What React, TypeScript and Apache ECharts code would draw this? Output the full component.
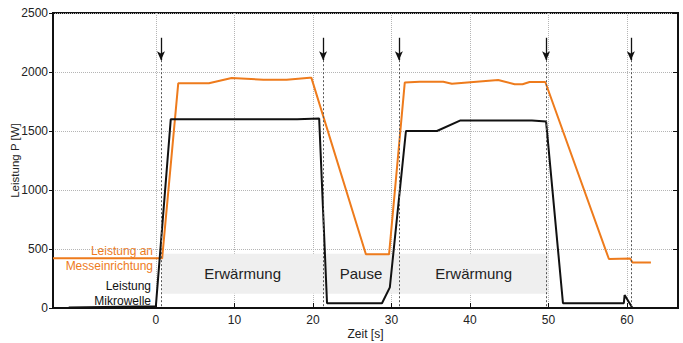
import React, { useEffect, useRef } from "react";
import * as echarts from "echarts";

const xTicks = [0, 10, 20, 30, 40, 50, 60];
const mwTime = [-11.1, 0, 1.9, 18, 20.8, 21.8, 28.8, 29.8, 31.85, 35.8, 38.8, 47.9, 49.7, 51.85, 59.6, 59.7, 60.7];
const mwPower = [5, 15, 1600, 1600, 1605, 40, 40, 175, 1500, 1500, 1590, 1590, 1580, 40, 40, 110, 0];
const meTime = [-13.1, 0.8, 2.85, 6.75, 9.65, 13.7, 16.65, 19.6, 19.8, 26.75, 29.7, 31.7, 33.6, 36.6, 37.7, 43.6, 45.7, 46.7, 47.6, 49.6, 57.7, 60.4, 60.7, 63.05];
const mePower = [421, 421, 1904, 1904, 1949, 1935, 1935, 1952, 1952, 455, 455, 1910, 1918, 1918, 1901, 1932, 1896, 1896, 1915, 1915, 415, 420, 385, 385];
const eventTimes = [0.65, 21.3, 30.95, 49.7, 60.5];
const phaseNames = ["Erwärmung", "Pause", "Erwärmung"];
const phaseBounds = [0.8, 21.3, 30.95, 50];
const bandLow = 120;
const bandHigh = 460;

const FONT = "Liberation Sans";

export default function App() {
  const ref = useRef<HTMLDivElement>(null);
  useEffect(() => {
    if (!ref.current) return;
    const chart = echarts.init(ref.current, null, { renderer: "svg" });
    const mw = mwTime.map((t, i) => [t, mwPower[i]]);
    const me = meTime.map((t, i) => [t, mePower[i]]);
    const areas = phaseNames.map((n, i) => [
      { name: n, coord: [phaseBounds[i], bandHigh] },
      { coord: [phaseBounds[i + 1], bandLow] },
    ]);
    const legendText = (text: string, x: number, y: number, fill: string) => ({
      type: "text", x, y,
      style: { text, fill, font: `12px '${FONT}'`, align: "right", verticalAlign: "middle" },
    });
    chart.setOption({
      animation: false,
      textStyle: { fontFamily: FONT },
      grid: {
        left: 53, right: 5, top: 13, bottom: 35,
        containLabel: false, outerBoundsMode: "none",
        show: true, borderColor: "#111", borderWidth: 2, backgroundColor: "transparent",
      },
      xAxis: {
        type: "value", min: -13.1, max: 66.5,
        name: "Zeit [s]", nameLocation: "middle", nameGap: 20, nameMoveOverlap: false,
        nameTextStyle: { fontSize: 12, color: "#222", fontFamily: FONT },
        axisLine: { show: true, onZero: false, lineStyle: { color: "#111", width: 2 } },
        axisTick: { show: true, inside: true, length: 5, customValues: xTicks, lineStyle: { color: "#111" } },
        axisLabel: { customValues: xTicks, fontSize: 12, color: "#222", margin: 6, fontFamily: FONT, formatter: (v: number) => String(v) },
        splitLine: { show: true, lineStyle: { color: "#b5b5b5", type: "dotted", width: 1 } },
      },
      yAxis: [
        {
          type: "value", min: 0, max: 2500, interval: 500,
          name: "Leistung P [W]", nameLocation: "middle", nameGap: 32, nameMoveOverlap: false,
          nameTextStyle: { fontSize: 11.5, color: "#222", fontFamily: FONT },
          axisLine: { show: true, onZero: false, lineStyle: { color: "#111", width: 2 } },
          axisTick: { show: true, inside: false, length: 4, lineStyle: { color: "#111" } },
          axisLabel: { fontSize: 12, color: "#222", margin: 5, fontFamily: FONT, formatter: (v: number) => String(v) },
          splitLine: { show: true, lineStyle: { color: "#b5b5b5", type: "dotted", width: 1 } },
        },
        {
          type: "value", min: 0, max: 2500, interval: 500, position: "right",
          axisLine: { show: false, onZero: false },
          axisTick: { show: true, inside: true, length: 5, lineStyle: { color: "#111" } },
          axisLabel: { show: false },
          splitLine: { show: false },
        },
      ],
      series: [
        {
          type: "line", data: [], silent: true,
          markArea: {
            silent: true,
            itemStyle: { color: "#efefef" },
            label: { show: true, position: "inside", fontSize: 15, color: "#222", fontFamily: FONT },
            data: areas,
          },
        },
        {
          type: "line", data: [], silent: true,
          markLine: {
            silent: true, symbol: "none", label: { show: false },
            lineStyle: { color: "#555", type: [2, 2], width: 1 },
            data: eventTimes.map((t) => [{ coord: [t, 2100] }, { coord: [t, 0] }]),
          },
        },
        {
          type: "line", data: [], silent: true,
          markLine: {
            silent: true, symbol: ["none", "arrow"], symbolSize: [6, 9], label: { show: false },
            lineStyle: { color: "#111", type: "solid", width: 1.3 },
            data: eventTimes.map((t) => [{ coord: [t, 2290] }, { coord: [t, 2100] }]),
          },
        },
        {
          name: "Messeinrichtung", type: "line", data: me, showSymbol: false,
          lineStyle: { color: "#ee7b1c", width: 2 }, itemStyle: { color: "#ee7b1c" },
        },
        {
          name: "Mikrowelle", type: "line", data: mw, showSymbol: false,
          lineStyle: { color: "#111", width: 2 }, itemStyle: { color: "#111" },
        },
      ],
      graphic: [
        legendText("Leistung an", 153, 251, "#ee7b1c"),
        legendText("Messeinrichtung", 153, 266, "#ee7b1c"),
        legendText("Leistung", 151, 286, "#111"),
        legendText("Mikrowelle", 151, 301, "#111"),
      ],
    });
    return () => chart.dispose();
  }, []);
  return <div ref={ref} style={{ width: 683, height: 343, position: "absolute", left: 0, top: 0 }} />;
}
